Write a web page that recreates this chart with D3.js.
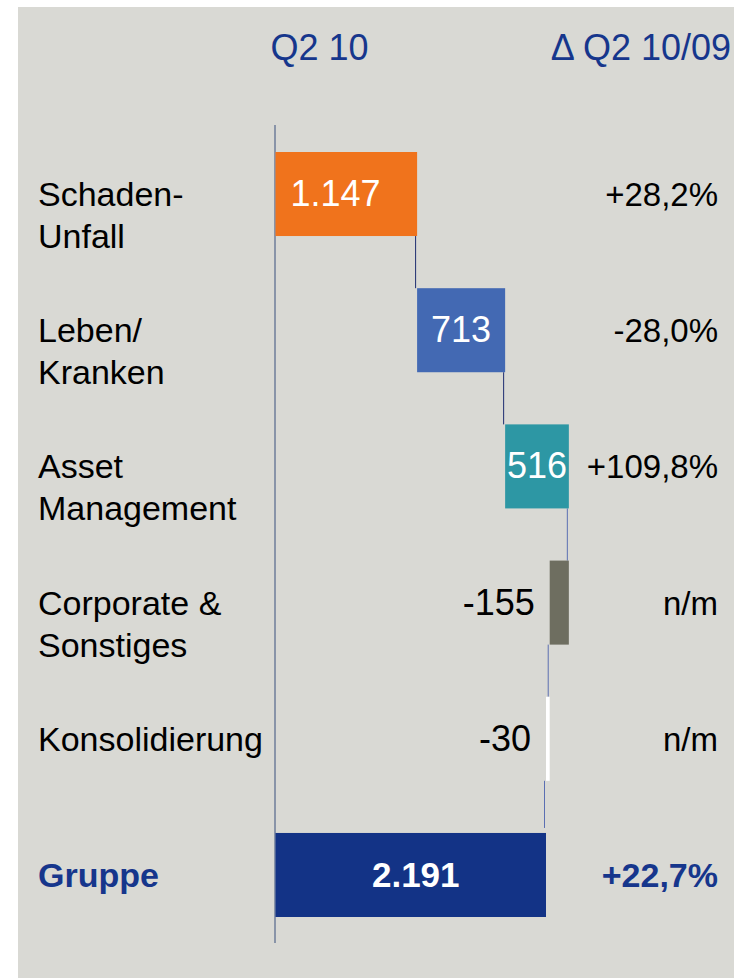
<!DOCTYPE html>
<html>
<head>
<meta charset="utf-8">
<script src="https://cdn.jsdelivr.net/npm/d3@7"></script>
<style>
  html, body { margin: 0; padding: 0; background: #fff; }
  svg { display: block; font-family: "Liberation Sans", Arial, sans-serif; }
</style>
</head>
<body>
<svg id="chart"></svg>
<script>
// Chart data
const categories = ["Schaden-\nUnfall", "Leben/\nKranken", "Asset\nManagement", "Corporate &\nSonstiges", "Konsolidierung", "Gruppe"];
const values = [1147, 713, 516, -155, -30, 2191];
const deltas = [28.2, -28.0, 109.8, null, null, 22.7];
const isTotal = [false, false, false, false, false, true];
const barColors = ["#f0731c", "#4369b3", "#2d97a4", "#6e6e60", "#ffffff", "#133386"];
const headers = ["Q2 10", "\u0394 Q2 10/09"];

const W = 734, H = 978;
const navy = "#16368c";

const de = d3.formatLocale({ decimal: ",", thousands: ".", grouping: [3], currency: ["", "\u20ac"], minus: "-" });
const fmtVal = de.format(",");
const fmtPct = de.format("+.1f");

// running totals for the waterfall
let run = 0;
const rows = categories.map((c, i) => {
  let start, end;
  if (isTotal[i]) { start = 0; end = values[i]; run = values[i]; }
  else { start = run; end = run + values[i]; run = end; }
  return { cat: c, value: values[i], start: start, end: end, delta: deltas[i], total: isTotal[i], color: barColors[i] };
});

const svg = d3.select("#chart").attr("width", W).attr("height", H);

// background panel
svg.append("rect").attr("x", 18).attr("y", 7).attr("width", W - 18).attr("height", H - 7).attr("fill", "#d9d9d4");

// scales (the total bar sets the scale)
const totalVal = rows.find(d => d.total).value;
const x = d3.scaleLinear().domain([0, totalVal]).range([275.5, 546]);
const y = d3.scaleBand().domain(d3.range(rows.length)).range([152, 917]).paddingInner(0.383).paddingOuter(0);

// column headers
svg.append("text").attr("x", x(0) - 5).attr("y", 60).attr("fill", navy).attr("font-size", 36).text(headers[0]);
svg.append("text").attr("x", 731).attr("y", 60).attr("fill", navy).attr("font-size", 36).attr("text-anchor", "end").text(headers[1]);

// baseline axis
svg.append("line").attr("x1", x(0) - 0.5).attr("x2", x(0) - 0.5).attr("y1", 125).attr("y2", 943)
  .attr("stroke", "#6e7d9a").attr("stroke-width", 1.5);

// connectors
rows.forEach((d, i) => {
  if (i === rows.length - 1) return;
  svg.append("line")
    .attr("x1", x(d.end) - 1.5).attr("x2", x(d.end) - 1.5)
    .attr("y1", y(i) + y.bandwidth()).attr("y2", y(i + 1) - (rows[i + 1].total ? 5 : 0))
    .attr("stroke", i < 2 ? "#1e2d70" : "#5b6fb2").attr("stroke-width", 1);
});

// bars
svg.selectAll(".bar").data(rows).enter().append("rect")
  .attr("class", "bar")
  .attr("x", d => x(Math.min(d.start, d.end)))
  .attr("y", (d, i) => y(i))
  .attr("width", d => Math.abs(x(d.end) - x(d.start)))
  .attr("height", y.bandwidth())
  .attr("fill", d => d.color);

// value labels
rows.forEach((d, i) => {
  const cy = y(i) + y.bandwidth() / 2;
  const x0 = x(Math.min(d.start, d.end)), x1 = x(Math.max(d.start, d.end));
  const t = svg.append("text").attr("y", cy + 12).text(fmtVal(d.value));
  if (d.total) {
    t.attr("x", (x0 + x1) / 2 + 5).attr("text-anchor", "middle").attr("fill", "#fff")
      .attr("font-size", 35).attr("font-weight", "bold");
  } else if (d.value < 0) {
    t.attr("x", x0 - 15).attr("text-anchor", "end").attr("fill", "#000").attr("font-size", 36);
  } else {
    t.attr("fill", "#fff").attr("font-size", 36);
    const w = t.node().getComputedTextLength();
    t.attr("x", Math.min(x0 + 15, (x0 + x1) / 2 - w / 2));
  }
});

// category labels
rows.forEach((d, i) => {
  const cy = y(i) + y.bandwidth() / 2;
  const t = svg.append("text").attr("x", 38).attr("y", cy + 12)
    .attr("font-size", 34)
    .attr("fill", d.total ? navy : "#000")
    .attr("font-weight", d.total ? "bold" : "normal");
  d.cat.split("\n").forEach((line, k) => {
    t.append("tspan").attr("x", 38).attr("dy", k === 0 ? 0 : 42).text(line);
  });
});

// change column
rows.forEach((d, i) => {
  const cy = y(i) + y.bandwidth() / 2;
  svg.append("text").attr("x", 718).attr("y", cy + 12)
    .attr("text-anchor", "end")
    .attr("font-size", d.total ? 34 : 33)
    .attr("font-weight", d.total ? "bold" : "normal")
    .attr("fill", d.total ? navy : "#000")
    .text(d.delta == null ? "n/m" : fmtPct(d.delta) + "%");
});
</script>
</body>
</html>
